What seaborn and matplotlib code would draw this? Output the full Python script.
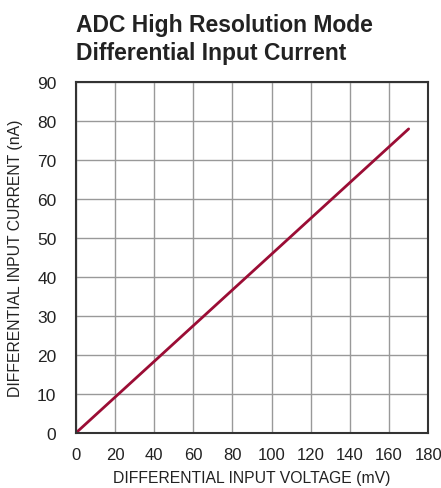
import matplotlib
matplotlib.use("Agg")
import matplotlib.pyplot as plt
import seaborn as sns
import pandas as pd

# values
voltage_mv = [0, 170]
current_na = [0, 78]
x_ticks = [0, 20, 40, 60, 80, 100, 120, 140, 160, 180]
y_ticks = [0, 10, 20, 30, 40, 50, 60, 70, 80, 90]

sns.set_theme(style="white")
plt.rcParams["font.family"] = ["Liberation Sans", "DejaVu Sans"]

df = pd.DataFrame({"voltage": voltage_mv, "current": current_na})

fig = plt.figure(figsize=(4.41, 4.89), dpi=100)
ax = fig.add_axes([0.172, 0.1125, 0.799, 0.7175])

sns.lineplot(data=df, x="voltage", y="current", ax=ax, color="#9B0D35", linewidth=2.0)

ax.set_xlim(0, 180)
ax.set_ylim(0, 90)
ax.set_xticks(x_ticks)
ax.set_yticks(y_ticks)
ax.grid(True, color="#999999", linewidth=1.0)
ax.tick_params(axis="x", length=0, labelsize=12, colors="#222222", pad=10)
ax.tick_params(axis="y", length=0, labelsize=12.5, colors="#222222", pad=14)
for s in ax.spines.values():
    s.set_color("#333333")
    s.set_linewidth(1.5)

ax.set_xlabel("DIFFERENTIAL INPUT VOLTAGE (mV)", fontsize=11.3, color="#222222", labelpad=6)
ax.set_ylabel("DIFFERENTIAL INPUT CURRENT (nA)", fontsize=11.3, color="#222222", labelpad=10)

fig.text(0.172, 0.972, "ADC High Resolution Mode\nDifferential Input Current",
         fontsize=16.5, fontweight="bold", color="#222222", ha="left", va="top",
         linespacing=1.3)

fig.savefig("out.png", dpi=100)
